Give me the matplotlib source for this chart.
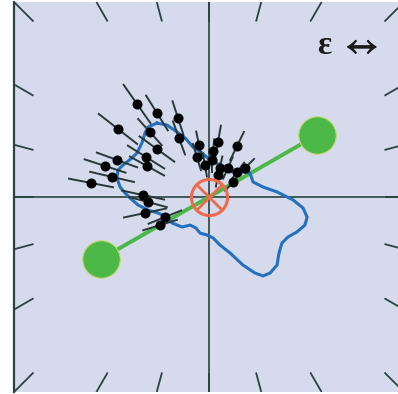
import numpy as np
import matplotlib
matplotlib.use('Agg')
import matplotlib.pyplot as plt
import matplotlib.patheffects as pe

# frame is -1..1 in both directions, origin at the crosshair
contour_x = [-0.267, -0.215, -0.164, -0.123, -0.082, -0.036, 0.005, 0.056, 0.072, 0.123,
             0.174, 0.210, 0.226, 0.277, 0.349, 0.431, 0.482, 0.503, 0.492, 0.451,
             0.405, 0.374, 0.359, 0.349, 0.313, 0.277, 0.236, 0.174, 0.108, 0.056,
             0.021, -0.010, -0.046, -0.067, -0.097, -0.138, -0.190, -0.215, -0.262, -0.313,
             -0.364, -0.405, -0.431, -0.456, -0.472, -0.467, -0.441, -0.395, -0.369, -0.344,
             -0.328, -0.313]
contour_y = [0.379, 0.369, 0.333, 0.303, 0.256, 0.226, 0.190, 0.164, 0.138, 0.128,
             0.128, 0.123, 0.077, 0.051, 0.026, -0.015, -0.056, -0.103, -0.144, -0.179,
             -0.205, -0.236, -0.287, -0.349, -0.390, -0.405, -0.390, -0.349, -0.287, -0.246,
             -0.210, -0.195, -0.185, -0.159, -0.144, -0.154, -0.133, -0.103, -0.082, -0.067,
             -0.041, -0.005, 0.021, 0.051, 0.097, 0.138, 0.164, 0.200, 0.226, 0.277,
             0.328, 0.359]

dot_x = [-0.369, -0.267, -0.159, -0.154, -0.467, -0.303, -0.267, -0.323, -0.318, -0.472,
         -0.533, -0.497, -0.605, -0.338, -0.313, -0.328, -0.226, -0.251,
         -0.051, -0.062, -0.021, 0.015, 0.021, 0.046, 0.144, 0.056, 0.046, 0.097,
         0.185, 0.144, 0.123]
dot_y = [0.477, 0.431, 0.405, 0.303, 0.349, 0.333, 0.246, 0.205, 0.159, 0.190,
         0.159, 0.103, 0.072, 0.010, -0.026, -0.082, -0.103, -0.144,
         0.267, 0.205, 0.164, 0.190, 0.236, 0.282, 0.262, 0.149, 0.113, 0.149,
         0.149, 0.128, 0.077]
stick_angle = [-55, -58, -72, -70, -38, -48, -36, -32, -29, -20,
               -18, -13, -11, -12, -15, 12, 22, 17,
               -78, -73, -80, 90, 85, 80, 64, 78, 80, 66,
               45, 53, 48]
stick_half = [0.12, 0.105, 0.09, 0.09, 0.125, 0.09, 0.11, 0.11, 0.10, 0.11,
              0.11, 0.115, 0.115, 0.11, 0.10, 0.11, 0.09, 0.09,
              0.07, 0.07, 0.06, 0.06, 0.06, 0.085, 0.08, 0.06, 0.06, 0.06,
              0.065, 0.06, 0.06]

green_x = [-0.555, 0.555]
green_y = [-0.318, 0.318]

tick_angles = np.arange(0, 360, 15)
label_sym = '\u03b5'
label_arrow = r'$\leftrightarrow$'

bg = '#d5dbec'
dark = '#2b4242'

fig = plt.figure(figsize=(3.98, 3.94), dpi=100)
ax = fig.add_axes([14/398, 2/394, 390/398, 390/394])
ax.set_facecolor(bg)
ax.set_xlim(-1, 1)
ax.set_ylim(-1, 1)
ax.set_xticks([]); ax.set_yticks([])
for s in ['top', 'right', 'bottom']:
    ax.spines[s].set_visible(False)
ax.spines['left'].set_color(dark)
ax.spines['left'].set_linewidth(1.6)

# crosshair
ax.axhline(0, color=dark, lw=1.2, zorder=1)
ax.axvline(0, color=dark, lw=1.2, zorder=1)

# radial ticks round the frame
for a in tick_angles:
    c, s = np.cos(np.radians(a)), np.sin(np.radians(a))
    t = 1.0/max(abs(c), abs(s))
    ax.plot([0.9*t*c, t*c], [0.9*t*s, t*s], color=dark, lw=1.3, zorder=1,
            solid_capstyle='butt')

# green axis with end blobs
ax.plot(green_x, green_y, color='#4cb848', lw=2.8, zorder=2)
ax.plot(green_x, green_y, 'o', ms=27, color='#4cb848', mec='#c8d870', mew=0.8, zorder=2, ls='none')

# blue contour
ax.plot(contour_x + contour_x[:1], contour_y + contour_y[:1], color='#2470c0', lw=2.2,
        zorder=3, solid_joinstyle='round')

# sticks and dots
for x, y, a, h in zip(dot_x, dot_y, stick_angle, stick_half):
    dx, dy = h*np.cos(np.radians(a)), h*np.sin(np.radians(a))
    ax.plot([x - dx, x + dx], [y - dy, y + dy], color='#283838', lw=1.4, zorder=4)
ax.plot(dot_x, dot_y, 'o', ms=6.2, color='black', ls='none', zorder=5)

# orange target at the origin
ax.plot([0], [0], 'o', ms=26, mfc='none', mec='#ee6a4a', mew=2.2, zorder=6)
ax.plot([0], [0], 'x', ms=17, mec='#ee6a4a', mew=2.0, zorder=6)

ax.text(0.552, 0.775, label_sym, fontsize=24, color='#1a1a1a', weight='bold',
        family=['Liberation Serif', 'DejaVu Serif'], ha='left', va='center')
ax.text(0.68, 0.775, label_arrow, fontsize=24, color='#1a1a1a',
        math_fontfamily='stix', ha='left', va='center',
        path_effects=[pe.withStroke(linewidth=0.9, foreground='#1a1a1a')])

fig.savefig('out.png', dpi=100, facecolor='white')
